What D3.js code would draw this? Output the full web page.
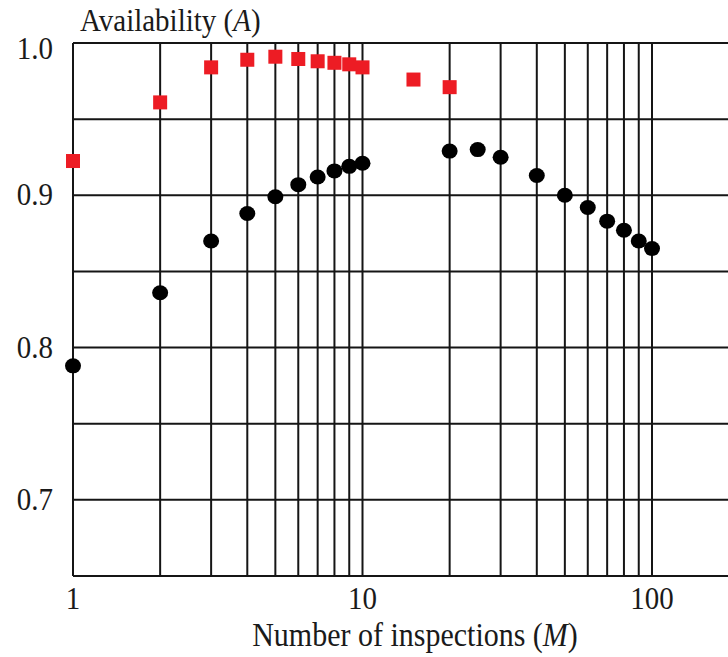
<!DOCTYPE html>
<html>
<head>
<meta charset="utf-8">
<script src="https://cdn.jsdelivr.net/npm/d3@7/dist/d3.min.js"></script>
<style>
  html, body { margin: 0; padding: 0; background: #fff; }
  svg { display: block; }
  text { font-family: "Liberation Serif", "Times New Roman", serif; fill: #1a1a1a; }
</style>
</head>
<body>
<script>
// Availability vs. number of inspections (log scale on M)
const inspectionsA = [1, 2, 3, 4, 5, 6, 7, 8, 9, 10, 20, 25, 30, 40, 50, 60, 70, 80, 90, 100];
const availabilityA = [0.788, 0.836, 0.870, 0.888, 0.899, 0.907, 0.912, 0.916, 0.919, 0.921,
                       0.929, 0.930, 0.925, 0.913, 0.900, 0.892, 0.883, 0.877, 0.870, 0.865];

const inspectionsB = [1, 2, 3, 4, 5, 6, 7, 8, 9, 10, 15, 20];
const availabilityB = [0.9225, 0.961, 0.984, 0.989, 0.991, 0.9895, 0.988, 0.987, 0.986, 0.984, 0.976, 0.971];

const xGrid = [1, 2, 3, 4, 5, 6, 7, 8, 9, 10, 20, 30, 40, 50, 60, 70, 80, 90, 100, 200];
const xTickLabels = [1, 10, 100];
const yGrid = [0.65, 0.7, 0.75, 0.8, 0.85, 0.9, 0.95, 1.0];
const yTickLabels = [0.7, 0.8, 0.9, 1.0];

const W = 728, H = 657;
const plotLeft = 73, plotTop = 43, plotBottom = 576;

const x = d3.scaleLog().domain([1, 200]).range([plotLeft, plotLeft + 289.5 * Math.log10(200)]);
const y = d3.scaleLinear().domain([0.65, 1.0]).range([plotBottom, plotTop]);

const svg = d3.select("body").append("svg").attr("width", W).attr("height", H);
svg.append("rect").attr("width", W).attr("height", H).attr("fill", "#fff");

const grid = svg.append("g").attr("stroke", "#151515").attr("stroke-width", 2);
grid.selectAll("line.h").data(yGrid).join("line")
  .attr("class", "h")
  .attr("x1", plotLeft).attr("x2", x(200))
  .attr("y1", d => y(d)).attr("y2", d => y(d));
grid.selectAll("line.v").data(xGrid).join("line")
  .attr("class", "v")
  .attr("x1", d => x(d)).attr("x2", d => x(d))
  .attr("y1", plotTop).attr("y2", plotBottom);

// text slightly taller than wide, as in the typeset figure
function label(g, tx, ty, anchor, size) {
  return g.append("text")
    .attr("transform", `translate(${tx},${ty}) scale(1,1.12)`)
    .attr("text-anchor", anchor)
    .attr("font-size", size || 29);
}

const labels = svg.append("g");
yTickLabels.forEach(v => {
  const ty = Math.max(y(v) + 10, 59);
  label(labels, 53, ty, "end").text(d3.format(".1f")(v));
});
xTickLabels.forEach(v => {
  label(labels, x(v), 609, "middle").text(v);
});

const yt = label(labels, 80, 31, "start");
yt.append("tspan").text("Availability (");
yt.append("tspan").attr("font-style", "italic").text("A");
yt.append("tspan").text(")");

const xt = label(labels, 415, 646, "middle", 30);
xt.append("tspan").text("Number of inspections (");
xt.append("tspan").attr("font-style", "italic").text("M");
xt.append("tspan").text(")");

// black circles
svg.append("g").selectAll("ellipse")
  .data(inspectionsA.map((m, i) => [m, availabilityA[i]]))
  .join("ellipse")
  .attr("cx", d => x(d[0])).attr("cy", d => y(d[1]))
  .attr("rx", 8).attr("ry", 7.5)
  .attr("fill", "#000");

// red squares
const s = 14;
svg.append("g").selectAll("rect")
  .data(inspectionsB.map((m, i) => [m, availabilityB[i]]))
  .join("rect")
  .attr("x", d => x(d[0]) - s / 2).attr("y", d => y(d[1]) - s / 2)
  .attr("width", s).attr("height", s)
  .attr("fill", "#ed1c24");
</script>
</body>
</html>
